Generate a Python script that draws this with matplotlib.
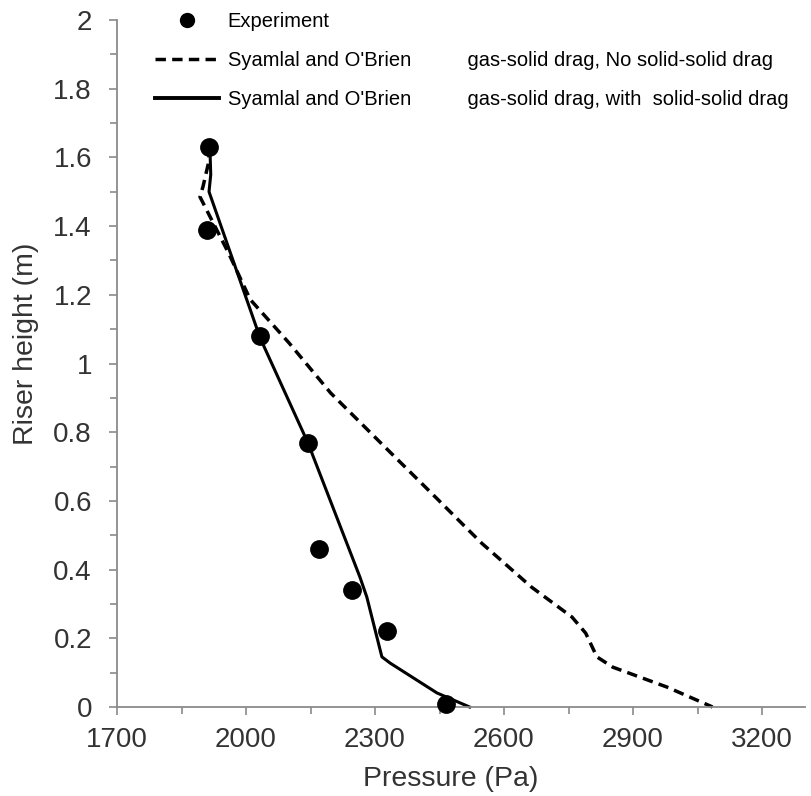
import matplotlib
matplotlib.use('Agg')
import matplotlib.pyplot as plt
from matplotlib.lines import Line2D

plt.rcParams['font.family'] = ['Liberation Sans', 'DejaVu Sans']

# Experimental data
exp_pressure = [1914, 1909, 2033, 2144, 2170, 2247, 2328, 2465]
exp_height = [1.63, 1.39, 1.08, 0.77, 0.46, 0.34, 0.22, 0.01]

# Syamlal and O'Brien, no solid-solid drag
nodrag_pressure = [1916, 1912, 1900, 1893, 1960, 2010, 2100, 2197, 2314, 2431,
                   2548, 2664, 2758, 2790, 2816, 2853, 2979, 3085]
nodrag_height = [1.63, 1.58, 1.515, 1.485, 1.32, 1.186, 1.06, 0.914, 0.768, 0.623,
                 0.477, 0.349, 0.262, 0.215, 0.146, 0.116, 0.058, 0.0]

# Syamlal and O'Brien, with solid-solid drag
drag_pressure = [1916, 1918, 1914, 2033, 2144, 2265, 2281, 2316, 2335, 2444, 2520]
drag_height = [1.63, 1.55, 1.50, 1.074, 0.769, 0.378, 0.32, 0.146, 0.128, 0.041, 0.0]

x_ticks = [1700, 2000, 2300, 2600, 2900, 3200]
x_minor = [1850, 2150, 2450, 2750, 3050]
y_ticks = [0, 0.2, 0.4, 0.6, 0.8, 1.0, 1.2, 1.4, 1.6, 1.8, 2.0]
y_ticklabels = ['0', '0.2', '0.4', '0.6', '0.8', '1', '1.2', '1.4', '1.6', '1.8', '2']
y_minor = [0.1, 0.3, 0.5, 0.7, 0.9, 1.1, 1.3, 1.5, 1.7, 1.9]

labels = ['Experiment',
          "Syamlal and O'Brien          gas-solid drag, No solid-solid drag",
          "Syamlal and O'Brien          gas-solid drag, with  solid-solid drag"]

fig = plt.figure(figsize=(8.11, 7.96), dpi=100)
ax = fig.add_axes([117/811, 1 - 707/796, (805 - 117)/811, (707 - 20)/796])

ax.plot(nodrag_pressure, nodrag_height, color='black', lw=2.5,
        linestyle=(0, (3, 1.8)), clip_on=False)
ax.plot(drag_pressure, drag_height, color='black', lw=2.2, clip_on=False)
ax.plot(exp_pressure, exp_height, 'o', color='black', markersize=12.5,
        clip_on=False, zorder=5)

ax.set_xlim(1700, 3300)
ax.set_ylim(0, 2)
ax.set_xticks(x_ticks)
ax.set_xticks(x_minor, minor=True)
ax.set_yticks(y_ticks, y_ticklabels)
ax.set_yticks(y_minor, minor=True)

ax.spines['top'].set_visible(False)
ax.spines['right'].set_visible(False)
for s in ['left', 'bottom']:
    ax.spines[s].set_color('#8a8a8a')
    ax.spines[s].set_linewidth(1.3)

ax.tick_params(which='both', direction='out', color='#8a8a8a', width=1.2,
               labelsize=20, labelcolor='#333333')
ax.tick_params(which='major', length=6)
ax.tick_params(which='minor', length=5)
ax.tick_params(axis='x', which='both', pad=8.5)
ax.tick_params(axis='y', which='both', pad=12)

ax.set_xlabel('Pressure (Pa)', fontsize=20.5, color='#333333')
ax.set_ylabel('Riser height (m)', fontsize=20.5, color='#333333')
ax.xaxis.set_label_coords(0.4855, -0.086)
ax.yaxis.set_label_coords(-0.113, 0.528)

handles = [Line2D([], [], marker='o', color='black', linestyle='none', markersize=10),
           Line2D([], [], color='black', lw=2.5, linestyle=(0, (3, 1.8))),
           Line2D([], [], color='black', lw=2.8)]
ax.legend(handles, labels, loc='upper left', bbox_to_anchor=(155/811, 1 - 12/796),
          bbox_transform=fig.transFigure, frameon=False, fontsize=14.5,
          handlelength=3.2, handletextpad=0.4, labelspacing=1.0,
          borderpad=0, borderaxespad=0)

plt.savefig('out.png', dpi=100)
